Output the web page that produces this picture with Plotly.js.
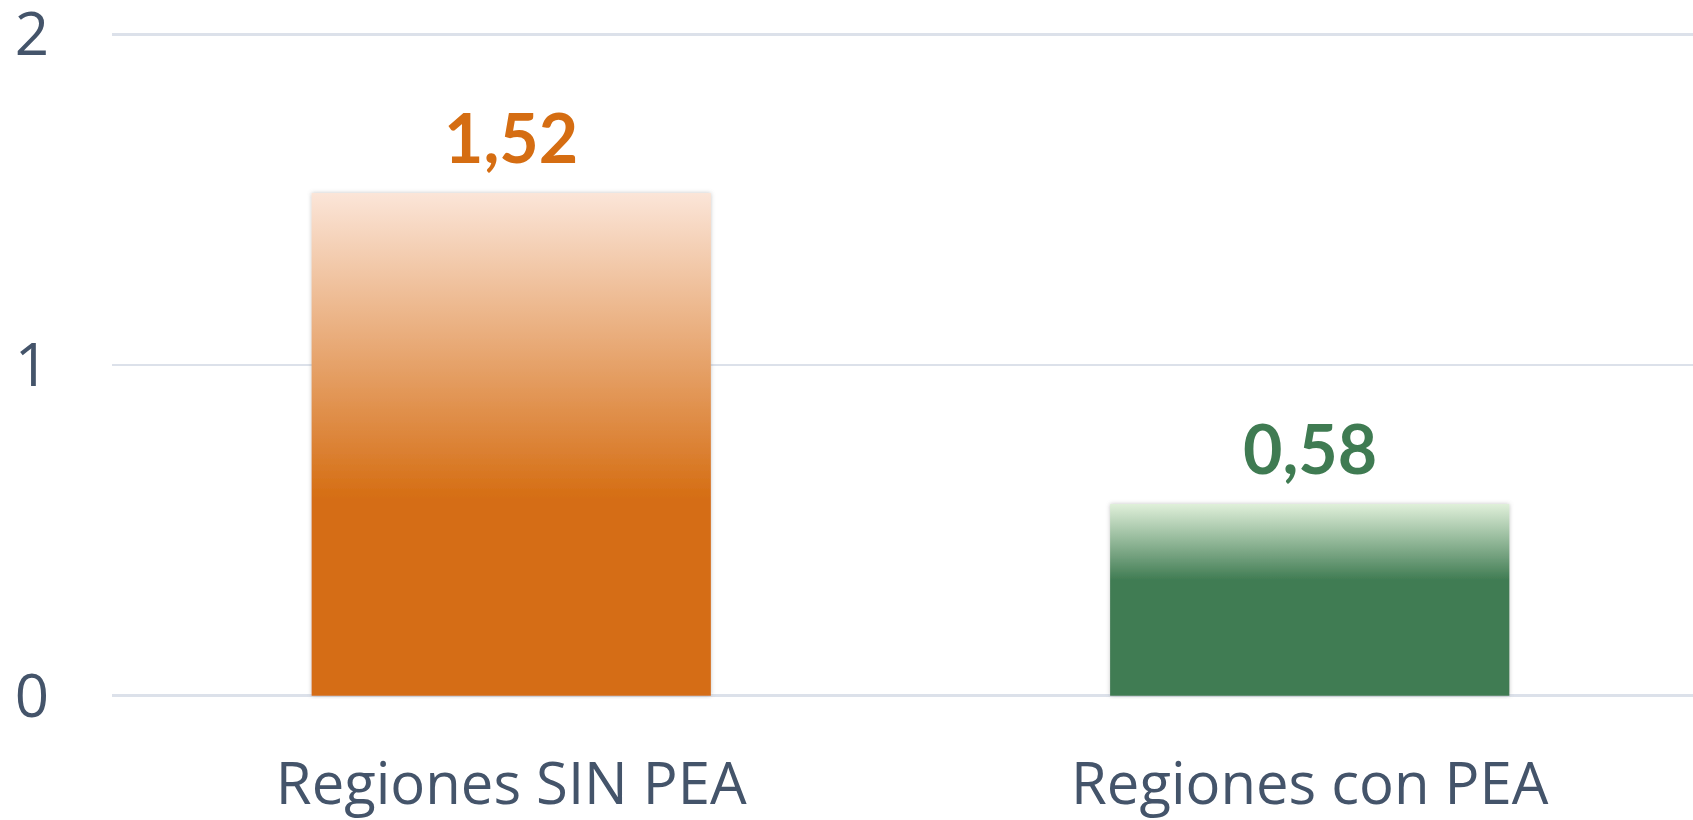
<!DOCTYPE html>
<html>
<head>
<meta charset="utf-8">
<script src="https://cdn.plot.ly/plotly-3.0.1.min.js"></script>
<style>
  html, body { margin: 0; padding: 0; background: #ffffff; overflow: hidden; }
  #chart { width: 1693px; height: 820px; }
</style>
</head>
<body>
<div id="chart"></div>
<script>
// ---- data ----
const categories = ["Regiones SIN PEA", "Regiones con PEA"];
const values = [1.52, 0.58];
const labelColors = ["#D56D12", "#3F7B52"];
const yTickValues = [0, 1, 2];
const yTickLabels = ["0", "1", "2"];

// gradient definitions per bar (top colour, solid colour, offset where solid begins)
const gradTop = ["#FBE5D8", "#E0F0DA"];
const gradSolid = ["#D56D12", "#3F7B52"];
const gradSolidStart = [0.61, 0.40];

const fmt = v => v.toFixed(2).replace(".", ",");

const trace = {
  type: "bar",
  x: categories,
  y: values,
  width: 0.5,
  marker: { color: gradSolid, line: { width: 0 } },
  hoverinfo: "skip"
};

const annotations = categories.map((c, i) => ({
  x: c,
  y: values[i],
  xref: "x",
  yref: "y",
  text: "<b>" + fmt(values[i]) + "</b>",
  showarrow: false,
  yanchor: "bottom",
  yshift: 14,
  font: { family: "Lato, 'Open Sans', sans-serif", size: 68, color: labelColors[i] }
}));

const layout = {
  width: 1693,
  height: 820,
  margin: { l: 112, r: 0, t: 31, b: 121, pad: 0 },
  paper_bgcolor: "#ffffff",
  plot_bgcolor: "#ffffff",
  showlegend: false,
  xaxis: {
    type: "category",
    range: [-0.5, 1.48],
    showgrid: false,
    zeroline: false,
    showline: false,
    ticks: "",
    ticklabelstandoff: 46,
    ticklabeloverflow: "allow",
    tickfont: { family: "'Open Sans', sans-serif", size: 58, color: "#44546A" },
    fixedrange: true
  },
  yaxis: {
    range: [-0.01, 2.01],
    tickvals: yTickValues,
    ticktext: yTickLabels,
    showgrid: true,
    gridcolor: "#DCE1EA",
    gridwidth: 2.5,
    zeroline: false,
    showline: false,
    ticks: "",
    ticklabelstandoff: 62,
    ticklabeloverflow: "allow",
    tickfont: { family: "'Open Sans', sans-serif", size: 60, color: "#44546A" },
    fixedrange: true
  },
  annotations: annotations
};

function applyGradients(gd) {
  const ns = "http://www.w3.org/2000/svg";
  const svg = gd.querySelector("svg.main-svg");
  let defs = document.getElementById("customDefs");
  if (!defs) {
    defs = document.createElementNS(ns, "defs");
    defs.setAttribute("id", "customDefs");
    svg.insertBefore(defs, svg.firstChild);
    const filt = document.createElementNS(ns, "filter");
    filt.setAttribute("id", "barShadow");
    filt.setAttribute("x", "-5%"); filt.setAttribute("y", "-5%");
    filt.setAttribute("width", "110%"); filt.setAttribute("height", "110%");
    const ds = document.createElementNS(ns, "feDropShadow");
    ds.setAttribute("dx", "0"); ds.setAttribute("dy", "0");
    ds.setAttribute("stdDeviation", "2");
    ds.setAttribute("flood-color", "#7f7f7f");
    ds.setAttribute("flood-opacity", "0.45");
    filt.appendChild(ds);
    defs.appendChild(filt);
    categories.forEach((c, i) => {
      const g = document.createElementNS(ns, "linearGradient");
      g.setAttribute("id", "barGrad" + i);
      g.setAttribute("x1", "0"); g.setAttribute("y1", "0");
      g.setAttribute("x2", "0"); g.setAttribute("y2", "1");
      [[0, gradTop[i]], [gradSolidStart[i], gradSolid[i]], [1, gradSolid[i]]].forEach(([o, col]) => {
        const s = document.createElementNS(ns, "stop");
        s.setAttribute("offset", String(o));
        s.setAttribute("stop-color", col);
        g.appendChild(s);
      });
      defs.appendChild(g);
    });
  }
  const paths = gd.querySelectorAll("g.point path");
  paths.forEach((p, i) => {
    p.style.setProperty("fill", "url(#barGrad" + i + ")");
    p.style.setProperty("filter", "url(#barShadow)");
  });
}

Plotly.newPlot("chart", [trace], layout, { displayModeBar: false, staticPlot: true }).then(gd => {
  applyGradients(gd);
  setTimeout(() => applyGradients(gd), 200);
  gd.on && gd.on("plotly_afterplot", () => applyGradients(gd));
});
</script>
</body>
</html>
